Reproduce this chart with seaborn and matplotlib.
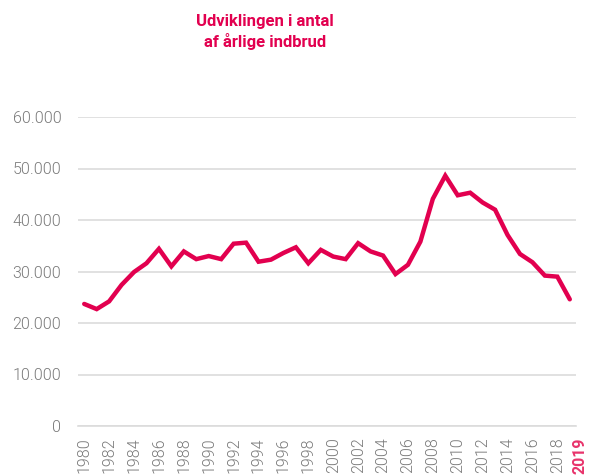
import numpy as np
import matplotlib.pyplot as plt
import matplotlib.transforms as mtransforms
import seaborn as sns
import pandas as pd

# data
years = list(range(1980, 2020))
indbrud = [23700, 22700, 24200, 27400, 29900, 31600, 34400, 31000, 33900, 32400,
           33000, 32400, 35400, 35600, 31900, 32300, 33600, 34700, 31600, 34200,
           32900, 32400, 35500, 33900, 33100, 29500, 31300, 35800, 44100, 48600,
           44800, 45300, 43400, 42000, 37100, 33400, 31800, 29200, 29000, 24600]
y_ticks = [0, 10000, 20000, 30000, 40000, 50000, 60000]
title = "Udviklingen i antal\naf årlige indbrud"

red = "#E2004F"
grey = "#7a7a7a"

sns.set_style("white")
plt.rcParams['font.family'] = ['Roboto', 'DejaVu Sans']

df = pd.DataFrame({"år": years, "indbrud": indbrud})

fig = plt.figure(figsize=(5.89, 4.75), dpi=100)
ax = fig.add_axes([78 / 589, 49 / 475, 498 / 589, 309 / 475])

sns.lineplot(data=df, x="år", y="indbrud", color=red, linewidth=3.2, ax=ax,
             solid_joinstyle="miter")

ax.set_ylim(0, 60000)
ax.set_xlim(years[0] - 0.5, years[-1] + 0.5)
ax.set_yticks(y_ticks)
ax.set_yticklabels([f"{v:,}".replace(",", ".") for v in y_ticks], fontweight=300)
ax.yaxis.grid(True, color="#dcdcdc", linewidth=1.2)
ax.set_axisbelow(True)

xt = [y for y in years if y % 2 == 0] + [years[-1]]
ax.set_xticks(xt)
ax.set_xticklabels([str(y) for y in xt], rotation=90, fontweight=300)
ax.set_xticks(np.arange(years[0] - 0.5, years[-1] + 1, 1), minor=True)
ax.tick_params(axis="x", which="major", length=0, pad=8, labelsize=11.5, colors=grey)
ax.tick_params(axis="x", which="minor", length=5, color="#cfcfcf", width=1, direction="out")
ax.tick_params(axis="y", length=0, pad=12, labelsize=11.5, colors=grey)
lbl = ax.get_xticklabels()[-1]
lbl.set_color("#E8336B")
lbl.set_fontweight("bold")
lbl.set_transform(lbl.get_transform() + mtransforms.ScaledTranslation(10 / 100, 0, fig.dpi_scale_trans))

for s in ["top", "right", "left"]:
    ax.spines[s].set_visible(False)
ax.spines["bottom"].set_color("#dcdcdc")
ax.spines["bottom"].set_linewidth(1.2)

ax.set_xlabel("")
ax.set_ylabel("")

fig.text(265 / 589, 1 - 32 / 475, title, ha="center", va="center", color=red,
         fontsize=12, fontweight="bold", linespacing=1.35)

fig.savefig("out.png", dpi=100)
